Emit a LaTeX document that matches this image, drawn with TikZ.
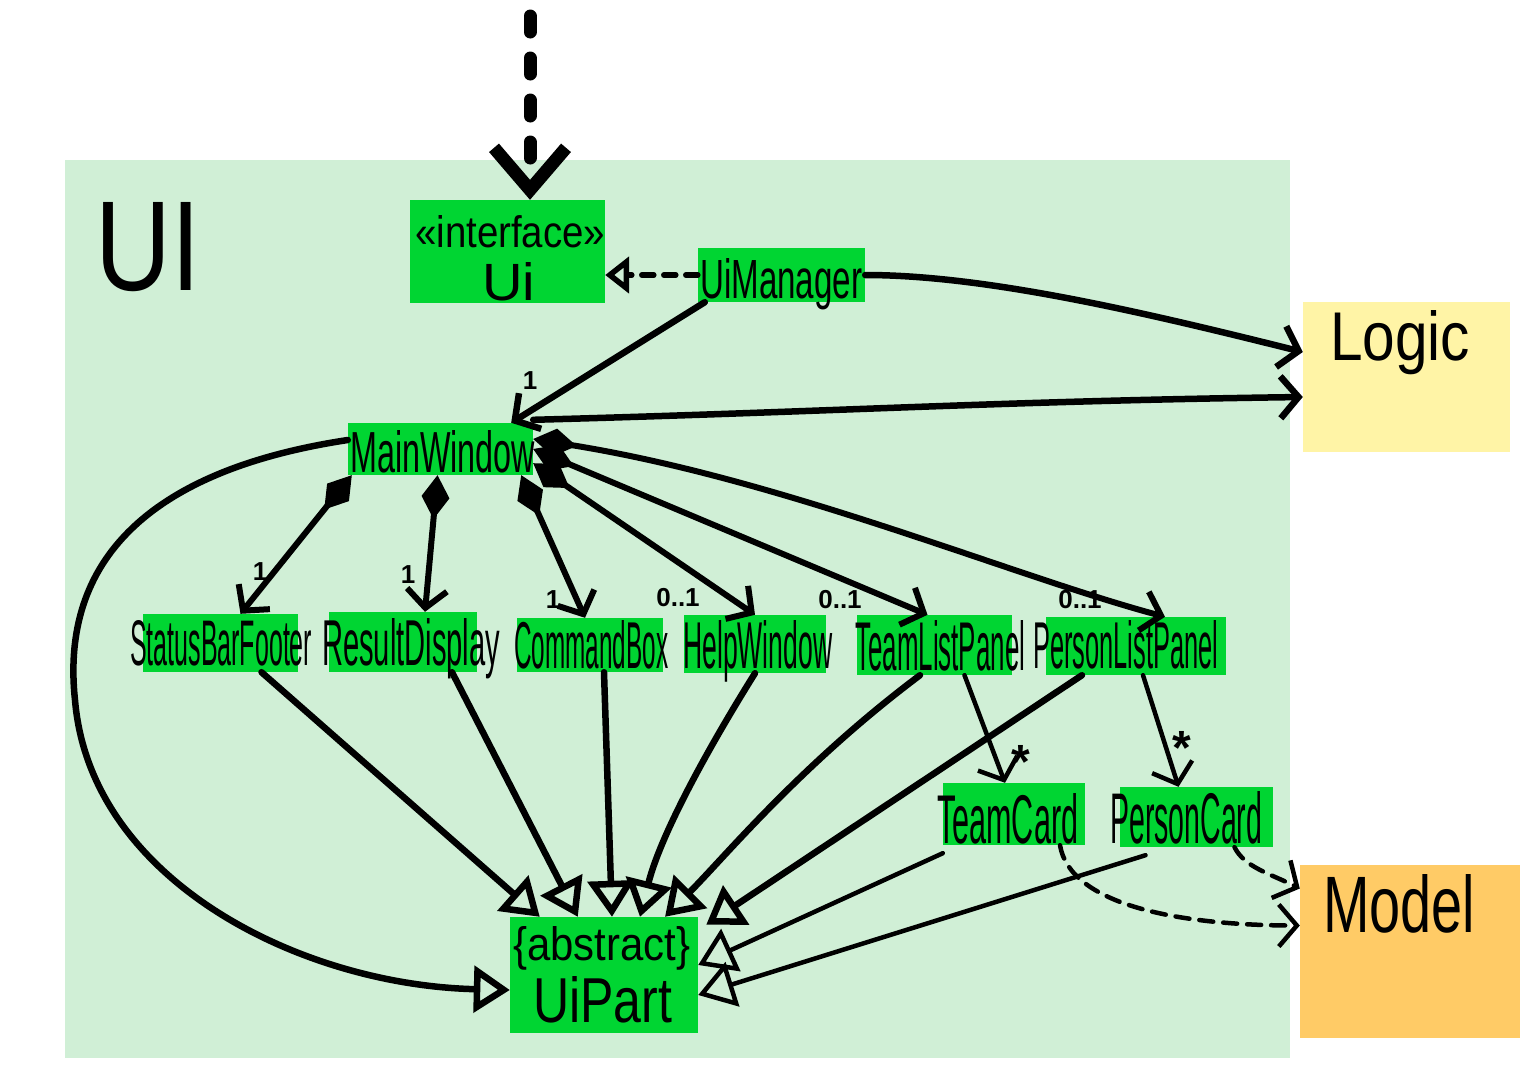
\documentclass[tikz,border=0pt]{standalone}
\usepackage{fontspec}
\setmainfont{Liberation Sans}
\usetikzlibrary{arrows.meta}
\definecolor{bgui}{HTML}{D0EFD6}
\definecolor{boxg}{HTML}{00D532}
\definecolor{logicc}{HTML}{FFF4A6}
\definecolor{modelc}{HTML}{FFCB66}
\newcommand{\fitt}[3]{\resizebox{#1pt}{#2pt}{#3}}
\begin{document}
\begin{tikzpicture}[x=1pt,y=-1pt,
  cls/.style={fill=boxg, inner sep=0, draw=none},
  pkg/.style={inner sep=0, draw=none},
  txt/.style={inner sep=0, anchor=base west},
  mult/.style={inner sep=0, font=\fontsize{26}{26}\selectfont\bfseries},
  star/.style={inner sep=0, font=\fontsize{48}{48}\selectfont\bfseries},
  con/.style={line width=6.5pt, line cap=round, line join=round},
  gen/.style={con, -{Triangle[open, length=36pt, width=46pt]}},
  assoc/.style={con, -{Straight Barb[length=18pt, width=42pt]}},
  comp/.style={con, line width=6pt, {Diamond[length=44pt,width=28pt]}-{Straight Barb[length=18pt,width=40pt]}},
  dep/.style={con, line width=4.5pt, dash pattern=on 14pt off 10pt, -{Straight Barb[length=18pt, width=42pt]}}
]
\useasboundingbox[fill=white] (0,0) rectangle (1527,1080);
% packages
\node[pkg, fill=bgui, minimum width=1225pt, minimum height=898pt] (uipkg) at (677.5,609) {};
\node[pkg, fill=logicc, minimum width=207pt, minimum height=150pt] (logic) at (1406.5,377) {};
\node[pkg, fill=modelc, minimum width=220pt, minimum height=173pt] (model) at (1410,951.5) {};
\node[txt] (uiT) at (95,290) {\fitt{105}{88}{UI}};
\node[txt] (logicT) at (1330,360) {\fitt{140}{50}{Logic}};
\node[txt] (modelT) at (1323,932) {\fitt{152}{58}{Model}};
% classes
\node[cls, minimum width=195pt, minimum height=103pt] (ui) at (507.5,251.5) {};
\node[cls, minimum width=167pt, minimum height=54pt] (uim) at (781.5,275) {};
\node[cls, minimum width=185pt, minimum height=52pt] (mw) at (440.5,449) {};
\node[cls, minimum width=155pt, minimum height=58pt] (sbf) at (220.5,643) {};
\node[cls, minimum width=148pt, minimum height=60pt] (rd) at (403,642) {};
\node[cls, minimum width=146pt, minimum height=54pt] (cb) at (590,645) {};
\node[cls, minimum width=142pt, minimum height=58pt] (hw) at (755,644) {};
\node[cls, minimum width=155pt, minimum height=60pt] (tlp) at (934.5,645) {};
\node[cls, minimum width=180pt, minimum height=58pt] (plp) at (1136,646) {};
\node[cls, minimum width=142pt, minimum height=62pt] (tc) at (1014,814) {};
\node[cls, minimum width=153pt, minimum height=60pt] (pc) at (1196.5,817) {};
\node[cls, minimum width=188pt, minimum height=116pt] (up) at (604,975) {};
% class texts
\node[txt] (uiS) at (415,247) {\fitt{190}{32}{«interface»}};
\node[txt] (uiN) at (482,300) {\fitt{53}{38}{Ui}};
\node[txt] (uimT) at (700,298) {\fitt{162}{40}{UiManager}};
\node[txt] (mwT) at (350,472) {\fitt{185}{42}{MainWindow}};
\node[txt] (sbfT) at (130,665) {\fitt{182}{45}{StatusBarFooter}};
\node[txt] (rdT) at (322,665) {\fitt{178}{47}{ResultDisplay}};
\node[txt] (cbT) at (514,668) {\fitt{154}{48}{CommandBox}};
\node[txt] (hwT) at (683,668) {\fitt{149}{48}{HelpWindow}};
\node[txt] (tlpT) at (855,670) {\fitt{170}{50}{TeamListPanel}};
\node[txt] (plpT) at (1033,668) {\fitt{185}{48}{PersonListPanel}};
\node[txt] (tcT) at (937,843) {\fitt{141}{50}{TeamCard}};
\node[txt] (pcT) at (1110,843) {\fitt{152}{52}{PersonCard}};
\node[txt] (upS) at (513,960) {\fitt{177}{34}{\{abstract\}}};
\node[txt] (upN) at (533,1022) {\fitt{139}{46}{UiPart}};
% top dashed arrow
\coordinate (src) at (530,16);
\draw[line width=13pt, line cap=round, dash pattern=on 16pt off 26pt,
  -{Straight Barb[length=42pt,width=72pt]}] (src) -- ([xshift=22.5pt]ui.north);
% UiManager realizes Ui
\draw[con, line width=5.5pt, dash pattern=on 12pt off 10pt, -{Triangle[open,length=24pt,width=36pt]}]
  (uim.west) -- (ui.east |- uim.west);
% UiManager -> Logic
\draw[assoc] (uim.east) .. controls +(120,0) and +(-160,-40) .. ([yshift=25pt]logic.west);
% UiManager -> MainWindow
\draw[assoc] ([xshift=7pt]uim.south west) -- ([xshift=-22pt]mw.north east);
\node[mult] (m0) at (530,381) {1};
% MainWindow -> Logic
\draw[assoc] ([yshift=3pt]mw.north east) .. controls +(300,-8) and +(-300,4) .. ([yshift=-20pt]logic.west);
% compositions
\draw[comp] ([xshift=4pt]mw.south west) -- ([xshift=20pt]sbf.north);
\draw[comp] ([xshift=-3pt]mw.south) -- ([xshift=22pt]rd.north);
\draw[comp] ([xshift=-12pt]mw.south east) -- ([xshift=-5pt]cb.north);
\draw[comp] ([yshift=12pt]mw.south east) -- (hw.north);
\draw[comp] (mw.east) -- ([xshift=-7pt]tlp.north);
\draw[comp] ([yshift=10pt]mw.east) .. controls +(250,40) and +(-150,-40) .. ([xshift=29pt]plp.north);
\node[mult] (m1) at (260,572) {1};
\node[mult] (m2) at (408,575) {1};
\node[mult] (m3) at (553,600) {1};
\node[mult] (m4) at (678,598) {0..1};
\node[mult] (m5) at (840,600) {0..1};
\node[mult] (m6) at (1080,600) {0..1};
% generalizations to UiPart
\draw[gen] ([xshift=41pt]sbf.south) -- ([xshift=30pt]up.north west);
\draw[gen] ([xshift=49pt]rd.south) -- ([xshift=68pt]up.north west);
\draw[gen] ([xshift=14pt]cb.south) -- ([xshift=8pt]up.north);
\draw[gen] (hw.south) .. controls +(-50,80) and +(20,-80) .. ([xshift=36pt]up.north);
\draw[gen] ([xshift=-14.5pt]tlp.south) .. controls +(-120,90) and +(60,-60) .. ([xshift=61pt]up.north);
\draw[gen] ([xshift=-54pt]plp.south) -- ([xshift=8pt,yshift=-8pt]up.north east);
\draw[gen] ([yshift=9pt]mw.west) .. controls (150,470) and (60,560) .. (75,700)
  .. controls (90,880) and (300,985) .. ([yshift=-15pt]up.west);
\draw[gen, line width=4.5pt] ([yshift=-8pt]tc.south west) -- ([yshift=10pt]up.east);
\draw[gen, line width=4.5pt] ([xshift=-51pt,yshift=-8pt]pc.south) -- ([yshift=-20pt]up.east);
% list panels -> cards
\draw[assoc, line width=4.5pt] ([xshift=30pt]tlp.south) -- ([xshift=-9pt]tc.north);
\draw[assoc, line width=4.5pt] ([xshift=7pt]plp.south) -- ([xshift=-18pt]pc.north);
\node[star] (s1) at (1021,762) {*};
\node[star] (s2) at (1182,748) {*};
% cards -> Model
\draw[dep] ([xshift=46pt]tc.south) .. controls +(10,60) and +(-120,0) .. ([yshift=26pt]model.west);
\draw[dep] ([xshift=38pt]pc.south) .. controls +(10,20) and +(-30,-15) .. ([yshift=63pt]model.west);
\end{tikzpicture}
\end{document}
